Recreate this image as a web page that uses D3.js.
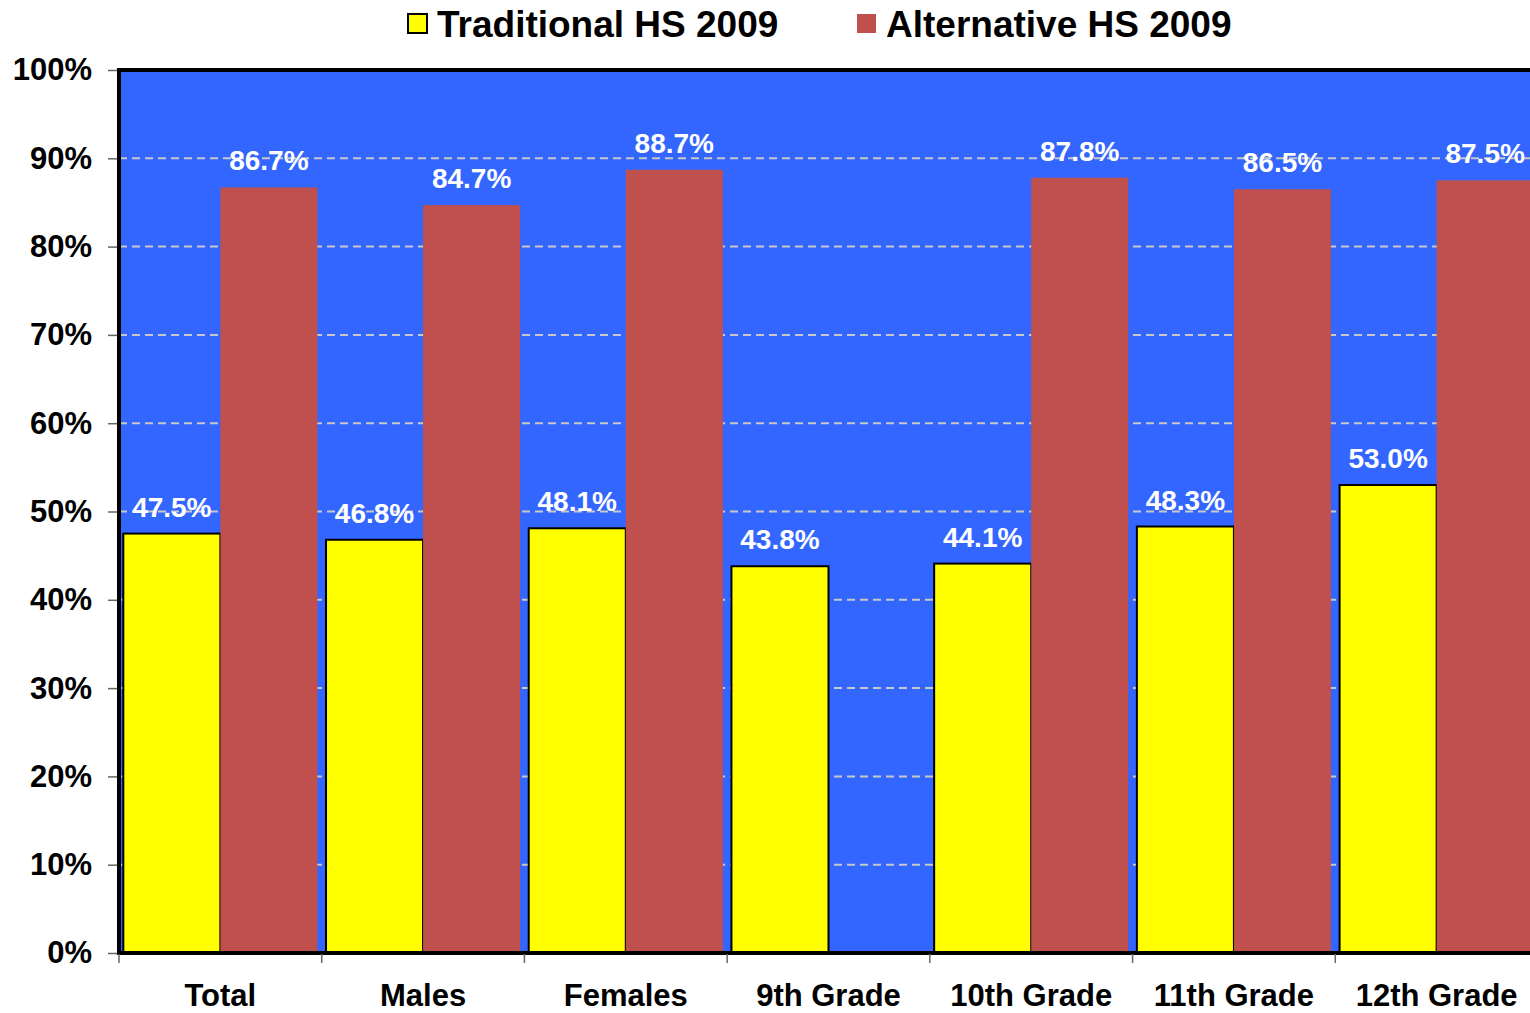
<!DOCTYPE html>
<html>
<head>
<meta charset="utf-8">
<script src="https://cdn.jsdelivr.net/npm/d3@7"></script>
<style>
    body { margin: 0; background: #fff; }
    text { font-family: "Liberation Sans", Arial, sans-serif; font-weight: bold; }
</style>
</head>
<body>
<svg id="chart"></svg>
<script>
// Data
let categories = ["Total", "Males", "Females", "9th Grade", "10th Grade", "11th Grade", "12th Grade"];
let seriesNames = ["Traditional HS 2009", "Alternative HS 2009"];
let traditional = [47.5, 46.8, 48.1, 43.8, 44.1, 48.3, 53.0];
let alternative = [86.7, 84.7, 88.7, null, 87.8, 86.5, 87.5];
let yTicks = [0, 10, 20, 30, 40, 50, 60, 70, 80, 90, 100];
let seriesColors = ["#FFFF00", "#C0504D"];

let config = {svg: {}, plot: {}};
config.svg.width = 1530;
config.svg.height = 1013;
config.plot.x = 119;
config.plot.y = 70;
config.plot.width = 1419;   // runs past the right edge, like the original
config.plot.height = 883;

let svg = d3.select("#chart")
    .attr("width", config.svg.width)
    .attr("height", config.svg.height);

let scales = {};
scales.x0 = d3.scaleBand()
    .domain(categories)
    .range([config.plot.x, config.plot.x + config.plot.width]);
scales.x1 = d3.scaleBand()
    .domain(seriesNames)
    .range([4.3, scales.x0.bandwidth() - 4.3]);
scales.y = d3.scaleLinear()
    .domain([0, 100])
    .range([config.plot.y + config.plot.height, config.plot.y]);
scales.color = d3.scaleOrdinal().domain(seriesNames).range(seriesColors);

// plot background
svg.append("rect")
    .attr("x", config.plot.x)
    .attr("y", config.plot.y)
    .attr("width", config.plot.width)
    .attr("height", config.plot.height)
    .attr("fill", "#3366FF");

// gridlines
svg.append("g")
    .selectAll("line")
    .data(yTicks.filter(d => d > 0 && d < 100))
    .enter().append("line")
    .attr("x1", config.plot.x)
    .attr("x2", config.plot.x + config.plot.width)
    .attr("y1", d => scales.y(d))
    .attr("y2", d => scales.y(d))
    .attr("stroke", "#C8C8C8")
    .attr("stroke-width", 2)
    .attr("stroke-dasharray", "8,5");

// build rows
let rows = [];
categories.forEach(function(c, i) {
    rows.push({cat: c, series: seriesNames[0], value: traditional[i]});
    rows.push({cat: c, series: seriesNames[1], value: alternative[i]});
});
let drawn = rows.filter(d => d.value !== null);

// bars
svg.append("g")
    .selectAll("rect")
    .data(drawn)
    .enter().append("rect")
    .attr("x", d => scales.x0(d.cat) + scales.x1(d.series))
    .attr("y", d => scales.y(d.value))
    .attr("width", scales.x1.bandwidth())
    .attr("height", d => scales.y(0) - scales.y(d.value))
    .attr("fill", d => scales.color(d.series))
    .attr("stroke", d => d.series === seriesNames[0] ? "#000" : "none")
    .attr("stroke-width", 2);

// value labels
svg.append("g")
    .selectAll("text")
    .data(drawn)
    .enter().append("text")
    .attr("x", d => scales.x0(d.cat) + scales.x1(d.series) + scales.x1.bandwidth() / 2)
    .attr("y", d => scales.y(d.value) - 17)
    .attr("text-anchor", "middle")
    .attr("fill", "#fff")
    .style("font-size", "28px")
    .text(d => d.value.toFixed(1) + "%");

// plot border (left, top, bottom)
svg.append("path")
    .attr("d", "M" + (config.plot.x + config.plot.width) + "," + config.plot.y +
        "H" + config.plot.x + "V" + (config.plot.y + config.plot.height) +
        "H" + (config.plot.x + config.plot.width))
    .attr("fill", "none")
    .attr("stroke", "#000")
    .attr("stroke-width", 4);

// y axis
let yAxis = d3.axisLeft(scales.y)
    .tickValues(yTicks)
    .tickSize(9)
    .tickPadding(16)
    .tickFormat(d => d + "%");
let yAxisGroup = svg.append("g")
    .attr("transform", "translate(" + (config.plot.x - 2) + ",0)")
    .call(yAxis);
yAxisGroup.select(".domain").remove();
yAxisGroup.selectAll(".tick line").attr("stroke", "#666").attr("stroke-width", 1.5);
yAxisGroup.selectAll(".tick text")
    .attr("fill", "#000")
    .style("font-size", "31px")
    .style("font-family", "Liberation Sans, Arial, sans-serif")
    .style("font-weight", "bold");

// x axis: ticks on band boundaries
let xAxisGroup = svg.append("g")
    .attr("transform", "translate(0," + (config.plot.y + config.plot.height + 1) + ")");
xAxisGroup.selectAll("line")
    .data(categories)
    .enter().append("line")
    .attr("x1", d => scales.x0(d))
    .attr("x2", d => scales.x0(d))
    .attr("y1", 0)
    .attr("y2", 9)
    .attr("stroke", "#666")
    .attr("stroke-width", 1.5);
xAxisGroup.selectAll("text")
    .data(categories)
    .enter().append("text")
    .attr("x", d => scales.x0(d) + scales.x0.bandwidth() / 2)
    .attr("y", 52)
    .attr("text-anchor", "middle")
    .attr("fill", "#000")
    .style("font-size", "31px")
    .text(d => d);

// legend
let legendItems = [
    {name: seriesNames[0], x: 408, stroke: "#000"},
    {name: seriesNames[1], x: 857, stroke: "none"}
];
let legend = svg.append("g");
let item = legend.selectAll("g")
    .data(legendItems)
    .enter().append("g")
    .attr("transform", d => "translate(" + d.x + ",14)");
item.append("rect")
    .attr("width", 19)
    .attr("height", 19)
    .attr("fill", d => scales.color(d.name))
    .attr("stroke", d => d.stroke)
    .attr("stroke-width", 2);
item.append("text")
    .attr("x", 29)
    .attr("y", 23)
    .attr("fill", "#000")
    .style("font-size", "37px")
    .text(d => d.name);
</script>
</body>
</html>
